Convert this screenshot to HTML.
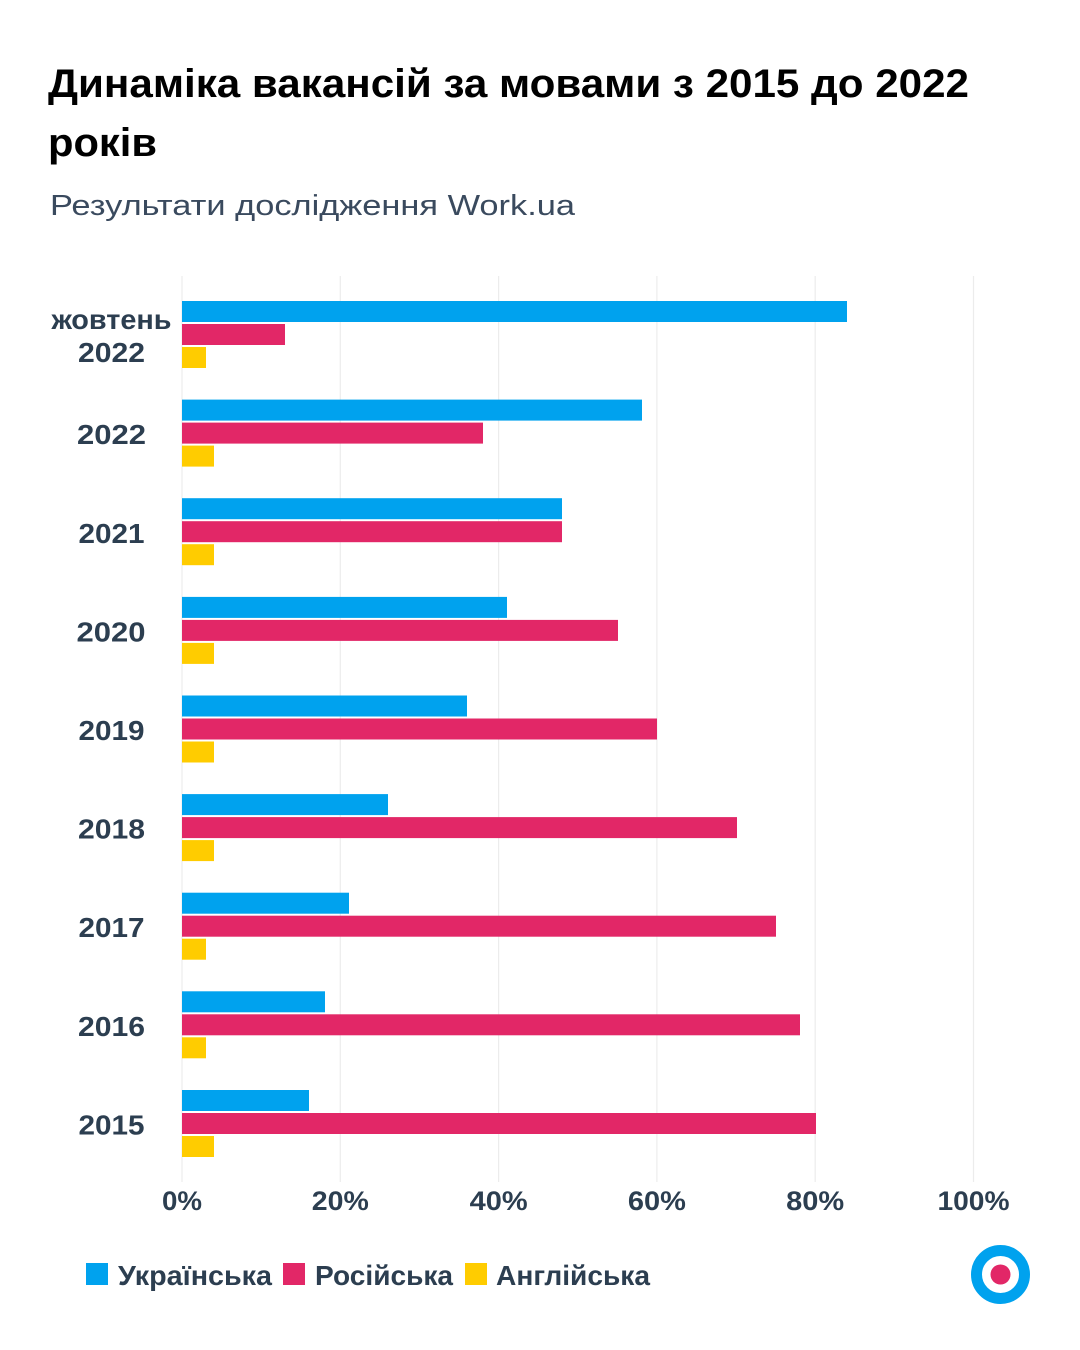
<!DOCTYPE html>
<html><head><meta charset="utf-8"><style>
html,body{margin:0;padding:0;background:#fff;}
svg{display:block;}
text{font-family:"Liberation Sans","DejaVu Sans",sans-serif;}
</style></head><body>
<svg width="1080" height="1350" viewBox="0 0 1080 1350" xmlns="http://www.w3.org/2000/svg">
<rect width="1080" height="1350" fill="#fff"/>
<text x="48" y="97" font-size="40" font-weight="bold" fill="#000" textLength="921" lengthAdjust="spacingAndGlyphs">Динаміка вакансій за мовами з 2015 до 2022</text>
<text x="48" y="156" font-size="40" font-weight="bold" fill="#000" textLength="109" lengthAdjust="spacingAndGlyphs">років</text>
<text x="50" y="215" font-size="29" fill="#3a4a5e" textLength="525" lengthAdjust="spacingAndGlyphs">Результати дослідження Work.ua</text>

<g stroke="#ececec" stroke-width="1.2">
<line x1="182" y1="276" x2="182" y2="1182"/>
<line x1="340.3" y1="276" x2="340.3" y2="1182"/>
<line x1="498.6" y1="276" x2="498.6" y2="1182"/>
<line x1="656.9" y1="276" x2="656.9" y2="1182"/>
<line x1="815.2" y1="276" x2="815.2" y2="1182"/>
<line x1="973.5" y1="276" x2="973.5" y2="1182"/>
</g>

<g>
<!-- group 0: y=301 -->
<rect x="182" y="301" width="665" height="21" fill="#00A2EE"/>
<rect x="182" y="324" width="103" height="21" fill="#E22767"/>
<rect x="182" y="347" width="24" height="21" fill="#FFCC00"/>
<!-- group 1: y=399.6 -->
<rect x="182" y="399.6" width="460" height="21" fill="#00A2EE"/>
<rect x="182" y="422.6" width="301" height="21" fill="#E22767"/>
<rect x="182" y="445.6" width="32" height="21" fill="#FFCC00"/>
<!-- group 2: y=498.2 -->
<rect x="182" y="498.2" width="380" height="21" fill="#00A2EE"/>
<rect x="182" y="521.2" width="380" height="21" fill="#E22767"/>
<rect x="182" y="544.2" width="32" height="21" fill="#FFCC00"/>
<!-- group 3: y=596.9 -->
<rect x="182" y="596.9" width="325" height="21" fill="#00A2EE"/>
<rect x="182" y="619.9" width="436" height="21" fill="#E22767"/>
<rect x="182" y="642.9" width="32" height="21" fill="#FFCC00"/>
<!-- group 4: y=695.5 -->
<rect x="182" y="695.5" width="285" height="21" fill="#00A2EE"/>
<rect x="182" y="718.5" width="475" height="21" fill="#E22767"/>
<rect x="182" y="741.5" width="32" height="21" fill="#FFCC00"/>
<!-- group 5: y=794.1 -->
<rect x="182" y="794.1" width="206" height="21" fill="#00A2EE"/>
<rect x="182" y="817.1" width="555" height="21" fill="#E22767"/>
<rect x="182" y="840.1" width="32" height="21" fill="#FFCC00"/>
<!-- group 6: y=892.7 -->
<rect x="182" y="892.7" width="167" height="21" fill="#00A2EE"/>
<rect x="182" y="915.7" width="594" height="21" fill="#E22767"/>
<rect x="182" y="938.7" width="24" height="21" fill="#FFCC00"/>
<!-- group 7: y=991.3 -->
<rect x="182" y="991.3" width="143" height="21" fill="#00A2EE"/>
<rect x="182" y="1014.3" width="618" height="21" fill="#E22767"/>
<rect x="182" y="1037.3" width="24" height="21" fill="#FFCC00"/>
<!-- group 8: y=1090 -->
<rect x="182" y="1090" width="127" height="21" fill="#00A2EE"/>
<rect x="182" y="1113" width="634" height="21" fill="#E22767"/>
<rect x="182" y="1136" width="32" height="21" fill="#FFCC00"/>
</g>

<g font-size="28" font-weight="bold" fill="#2C3E50" text-anchor="middle">
<text x="111.5" y="329" textLength="120" lengthAdjust="spacingAndGlyphs">жовтень</text>
<text x="111.5" y="362" textLength="67" lengthAdjust="spacingAndGlyphs">2022</text>
<text x="111.5" y="444" textLength="69" lengthAdjust="spacingAndGlyphs">2022</text>
<text x="111.5" y="543" textLength="66" lengthAdjust="spacingAndGlyphs">2021</text>
<text x="111" y="641.5" textLength="69" lengthAdjust="spacingAndGlyphs">2020</text>
<text x="111.5" y="740" textLength="66" lengthAdjust="spacingAndGlyphs">2019</text>
<text x="111.5" y="838.5" textLength="67" lengthAdjust="spacingAndGlyphs">2018</text>
<text x="111.5" y="937" textLength="66" lengthAdjust="spacingAndGlyphs">2017</text>
<text x="111.5" y="1036" textLength="67" lengthAdjust="spacingAndGlyphs">2016</text>
<text x="111.5" y="1134.5" textLength="66" lengthAdjust="spacingAndGlyphs">2015</text>
</g>

<g font-size="27" font-weight="bold" fill="#2C3E50" text-anchor="middle">
<text x="182" y="1210" textLength="40" lengthAdjust="spacingAndGlyphs">0%</text>
<text x="340.3" y="1210" textLength="57" lengthAdjust="spacingAndGlyphs">20%</text>
<text x="498.6" y="1210" textLength="58" lengthAdjust="spacingAndGlyphs">40%</text>
<text x="656.9" y="1210" textLength="58" lengthAdjust="spacingAndGlyphs">60%</text>
<text x="815.2" y="1210" textLength="58" lengthAdjust="spacingAndGlyphs">80%</text>
<text x="973.5" y="1210" textLength="72" lengthAdjust="spacingAndGlyphs">100%</text>
</g>

<rect x="86" y="1263" width="22" height="22" fill="#00A2EE"/>
<rect x="283" y="1263" width="22" height="22" fill="#E22767"/>
<rect x="465" y="1263" width="22" height="22" fill="#FFCC00"/>
<g font-size="28" font-weight="bold" fill="#2C3E50">
<text x="118" y="1285" textLength="154" lengthAdjust="spacingAndGlyphs">Українська</text>
<text x="315" y="1285" textLength="138" lengthAdjust="spacingAndGlyphs">Російська</text>
<text x="496" y="1285" textLength="154" lengthAdjust="spacingAndGlyphs">Англійська</text>
</g>

<circle cx="1000.5" cy="1274.5" r="24" fill="#fff" stroke="#00A2EE" stroke-width="11"/>
<circle cx="1000.5" cy="1274.5" r="10" fill="#E22767"/>
</svg>
</body></html>
